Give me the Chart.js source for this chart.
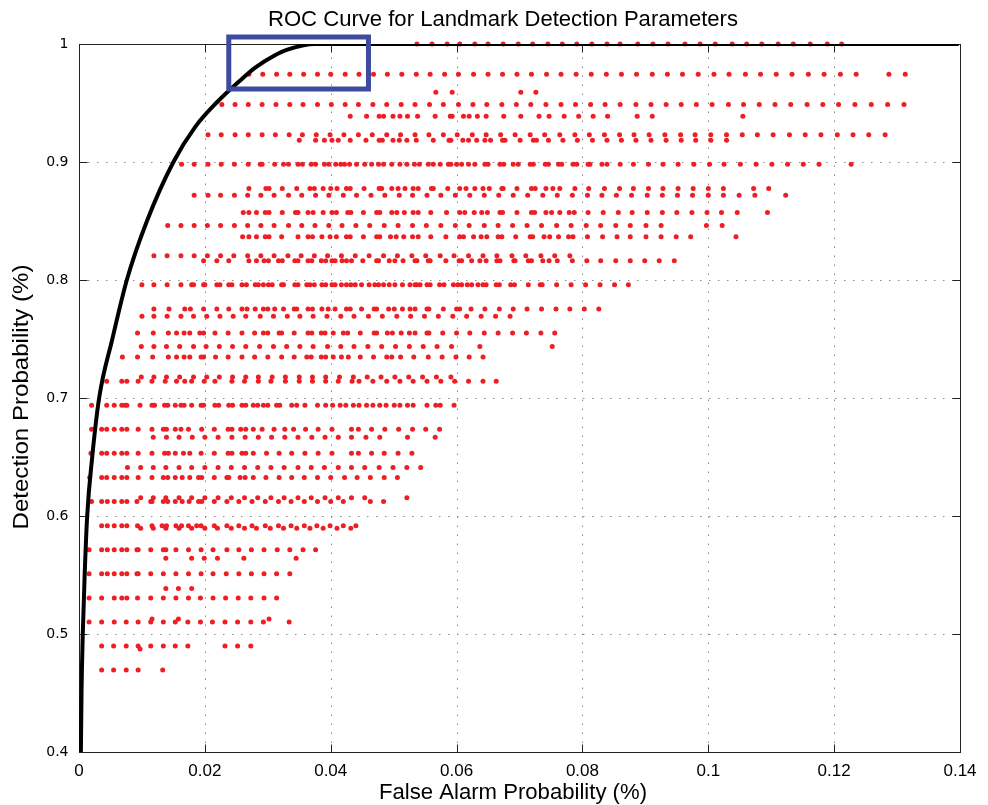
<!DOCTYPE html>
<html><head><meta charset="utf-8">
<script src="https://cdn.jsdelivr.net/npm/chart.js@4.4.1/dist/chart.umd.min.js"></script>
<style>html,body{margin:0;padding:0;background:#fff;}#wrap{width:988px;height:805px;position:relative;}</style>
</head><body><div id="wrap"><canvas id="c" width="988" height="805"></canvas></div>
<script>
const chartTitle = 'ROC Curve for Landmark Detection Parameters';
const xAxisTitle = 'False Alarm Probability (%)';
const yAxisTitle = 'Detection Probability (%)';
const xTicks = [0, 0.02, 0.04, 0.06, 0.08, 0.1, 0.12, 0.14];
const xTickLabels = ['0', '0.02', '0.04', '0.06', '0.08', '0.1', '0.12', '0.14'];
const yTicks = [0.4, 0.5, 0.6, 0.7, 0.8, 0.9, 1];
const yTickLabels = ['0.4', '0.5', '0.6', '0.7', '0.8', '0.9', '1'];

// detection probability of each row of parameter settings
const detectionLevels = [1.0, 0.9744, 0.9592, 0.9487, 0.9388, 0.9231, 0.9184, 0.898, 0.8776, 0.8718, 0.8571, 0.8462, 0.8367, 0.8205, 0.8163, 0.7959, 0.7755, 0.7692, 0.7551, 0.7436, 0.7347, 0.7179, 0.7143, 0.6939, 0.6735, 0.6667, 0.6531, 0.641, 0.6327, 0.6154, 0.6122, 0.5918, 0.5897, 0.5714, 0.5641, 0.551, 0.5385, 0.5306, 0.5128, 0.5102, 0.4898, 0.4872, 0.4694];

// false alarm probabilities of the settings in each row
const falseAlarmRows = [
[0.0537,0.0561,0.0585,0.0605,0.0629,0.0650,0.0674,0.0698,0.0721,0.0745,0.0768,0.0791,0.0815,0.0839,0.0860,0.0888,0.0912,0.0936,0.0963,0.0987,0.1011,0.1038,0.1061,0.1085,0.1111,0.1135,0.1162,0.1189,0.1212],
[0.0270,0.0292,0.0314,0.0335,0.0357,0.0379,0.0400,0.0423,0.0445,0.0468,0.0490,0.0513,0.0536,0.0558,0.0581,0.0603,0.0627,0.0650,0.0673,0.0696,0.0719,0.0743,0.0766,0.0790,0.0814,0.0838,0.0862,0.0886,0.0911,0.0935,0.0959,0.0984,0.1009,0.1033,0.1059,0.1083,0.1108,0.1133,0.1159,0.1184,0.1210,0.1235,0.1287,0.1313],
[0.0567,0.0593,0.0702,0.0726],
[0.0227,0.0248,0.0269,0.0291,0.0313,0.0335,0.0356,0.0379,0.0401,0.0423,0.0444,0.0467,0.0489,0.0512,0.0534,0.0557,0.0579,0.0603,0.0626,0.0648,0.0672,0.0695,0.0718,0.0742,0.0766,0.0789,0.0813,0.0836,0.0860,0.0885,0.0909,0.0933,0.0957,0.0981,0.1006,0.1032,0.1056,0.1081,0.1106,0.1131,0.1157,0.1182,0.1207,0.1233,0.1259,0.1285,0.1311],
[0.0431,0.0457,0.0477,0.0484,0.0499,0.0510,0.0522,0.0538,0.0566,0.0590,0.0593,0.0611,0.0620,0.0633,0.0647,0.0675,0.0702,0.0731,0.0747,0.0771,0.0794,0.0817,0.0840,0.0887,0.0911,0.1055],
[0.0205,0.0226,0.0248,0.0269,0.0291,0.0312,0.0334,0.0355,0.0377,0.0399,0.0421,0.0444,0.0466,0.0489,0.0511,0.0534,0.0556,0.0579,0.0601,0.0625,0.0647,0.0670,0.0693,0.0717,0.0740,0.0764,0.0788,0.0811,0.0835,0.0859,0.0882,0.0906,0.0931,0.0956,0.0979,0.1004,0.1029,0.1054,0.1078,0.1103,0.1129,0.1154,0.1179,0.1205,0.1230,0.1255,0.1281],
[0.0350,0.0376,0.0390,0.0402,0.0412,0.0431,0.0456,0.0477,0.0482,0.0499,0.0509,0.0521,0.0536,0.0563,0.0588,0.0591,0.0610,0.0619,0.0632,0.0645,0.0654,0.0673,0.0677,0.0701,0.0722,0.0727,0.0746,0.0769,0.0792,0.0816,0.0839,0.0862,0.0885,0.0909,0.0933,0.0957,0.0980,0.1004,0.1029],
[0.0163,0.0183,0.0205,0.0226,0.0247,0.0269,0.0288,0.0291,0.0311,0.0325,0.0333,0.0348,0.0355,0.0369,0.0376,0.0390,0.0397,0.0408,0.0416,0.0422,0.0430,0.0441,0.0454,0.0465,0.0476,0.0484,0.0497,0.0510,0.0521,0.0533,0.0541,0.0555,0.0563,0.0574,0.0587,0.0591,0.0600,0.0608,0.0619,0.0629,0.0645,0.0650,0.0669,0.0675,0.0690,0.0698,0.0717,0.0722,0.0741,0.0746,0.0762,0.0767,0.0785,0.0791,0.0809,0.0812,0.0831,0.0839,0.0860,0.0881,0.0905,0.0928,0.0952,0.0977,0.1002,0.1025,0.1051,0.1076,0.1101,0.1126,0.1151,0.1176,0.1227],
[0.0270,0.0297,0.0302,0.0323,0.0346,0.0367,0.0374,0.0388,0.0400,0.0410,0.0425,0.0431,0.0453,0.0477,0.0481,0.0497,0.0507,0.0518,0.0531,0.0539,0.0560,0.0563,0.0586,0.0605,0.0615,0.0629,0.0642,0.0652,0.0672,0.0674,0.0696,0.0719,0.0725,0.0742,0.0753,0.0764,0.0788,0.0810,0.0835,0.0859,0.0881,0.0905,0.0928,0.0952,0.0976,0.1000,0.1024,0.1072,0.1096],
[0.0183,0.0205,0.0225,0.0247,0.0268,0.0289,0.0310,0.0333,0.0354,0.0376,0.0397,0.0420,0.0441,0.0464,0.0486,0.0509,0.0530,0.0553,0.0575,0.0598,0.0621,0.0644,0.0667,0.0690,0.0713,0.0737,0.0760,0.0784,0.0808,0.0831,0.0854,0.0878,0.0903,0.0927,0.0951,0.0975,0.1000,0.1024,0.1049,0.1074,0.1123],
[0.0261,0.0270,0.0282,0.0296,0.0302,0.0323,0.0344,0.0348,0.0364,0.0372,0.0388,0.0402,0.0409,0.0427,0.0432,0.0452,0.0473,0.0478,0.0497,0.0505,0.0517,0.0531,0.0539,0.0559,0.0584,0.0605,0.0613,0.0628,0.0640,0.0649,0.0669,0.0673,0.0696,0.0719,0.0724,0.0742,0.0751,0.0764,0.0779,0.0787,0.0809,0.0833,0.0857,0.0879,0.0903,0.0927,0.0950,0.0974,0.0998,0.1021,0.1046,0.1094],
[0.0141,0.0162,0.0183,0.0204,0.0225,0.0247,0.0268,0.0289,0.0310,0.0333,0.0354,0.0375,0.0397,0.0418,0.0440,0.0462,0.0485,0.0507,0.0530,0.0552,0.0575,0.0598,0.0620,0.0644,0.0666,0.0689,0.0712,0.0735,0.0759,0.0782,0.0806,0.0829,0.0853,0.0876,0.0901,0.0925,0.0997,0.1022],
[0.0260,0.0270,0.0282,0.0296,0.0302,0.0322,0.0348,0.0364,0.0371,0.0386,0.0399,0.0409,0.0425,0.0431,0.0452,0.0473,0.0478,0.0495,0.0504,0.0516,0.0530,0.0539,0.0559,0.0583,0.0605,0.0611,0.0627,0.0639,0.0648,0.0666,0.0672,0.0694,0.0717,0.0721,0.0739,0.0748,0.0762,0.0778,0.0785,0.0808,0.0832,0.0855,0.0876,0.0901,0.0925,0.0949,0.0972,0.1044],
[0.0119,0.0140,0.0162,0.0183,0.0204,0.0225,0.0246,0.0268,0.0289,0.0310,0.0332,0.0353,0.0374,0.0395,0.0417,0.0439,0.0461,0.0484,0.0506,0.0529,0.0551,0.0574,0.0596,0.0619,0.0642,0.0664,0.0688,0.0710,0.0734,0.0756,0.0780],
[0.0198,0.0219,0.0238,0.0270,0.0282,0.0294,0.0301,0.0317,0.0323,0.0343,0.0348,0.0364,0.0370,0.0385,0.0392,0.0402,0.0407,0.0418,0.0425,0.0433,0.0451,0.0473,0.0476,0.0493,0.0502,0.0515,0.0534,0.0537,0.0555,0.0558,0.0583,0.0604,0.0608,0.0624,0.0637,0.0647,0.0664,0.0669,0.0691,0.0693,0.0714,0.0719,0.0737,0.0747,0.0760,0.0784,0.0807,0.0829,0.0853,0.0876,0.0899,0.0922,0.0946],
[0.0100,0.0119,0.0140,0.0162,0.0179,0.0182,0.0198,0.0200,0.0219,0.0224,0.0238,0.0243,0.0259,0.0266,0.0280,0.0285,0.0293,0.0301,0.0307,0.0322,0.0325,0.0343,0.0348,0.0362,0.0367,0.0374,0.0386,0.0392,0.0402,0.0407,0.0417,0.0425,0.0432,0.0439,0.0449,0.0461,0.0470,0.0476,0.0484,0.0493,0.0502,0.0514,0.0526,0.0534,0.0537,0.0542,0.0553,0.0558,0.0573,0.0580,0.0595,0.0602,0.0608,0.0617,0.0624,0.0634,0.0642,0.0647,0.0663,0.0668,0.0686,0.0692,0.0714,0.0733,0.0736,0.0759,0.0782,0.0805,0.0828,0.0851,0.0873],
[0.0119,0.0143,0.0168,0.0177,0.0198,0.0219,0.0238,0.0259,0.0267,0.0280,0.0293,0.0300,0.0311,0.0325,0.0342,0.0346,0.0364,0.0371,0.0386,0.0396,0.0407,0.0425,0.0431,0.0449,0.0469,0.0473,0.0492,0.0501,0.0514,0.0526,0.0534,0.0553,0.0556,0.0579,0.0600,0.0605,0.0623,0.0645,0.0668,0.0690,0.0712,0.0735,0.0758,0.0780,0.0803,0.0826],
[0.0100,0.0119,0.0140,0.0162,0.0182,0.0203,0.0224,0.0245,0.0265,0.0288,0.0309,0.0331,0.0351,0.0372,0.0394,0.0416,0.0437,0.0460,0.0482,0.0505,0.0527,0.0549,0.0571,0.0594,0.0616,0.0639,0.0662,0.0685],
[0.0093,0.0118,0.0142,0.0155,0.0167,0.0176,0.0192,0.0198,0.0216,0.0237,0.0259,0.0279,0.0293,0.0300,0.0318,0.0322,0.0342,0.0364,0.0370,0.0385,0.0391,0.0404,0.0420,0.0427,0.0447,0.0469,0.0473,0.0490,0.0498,0.0512,0.0525,0.0534,0.0553,0.0556,0.0578,0.0600,0.0621,0.0644,0.0666,0.0689,0.0711,0.0734,0.0756],
[0.0099,0.0119,0.0139,0.0160,0.0182,0.0202,0.0223,0.0244,0.0265,0.0287,0.0309,0.0330,0.0351,0.0372,0.0395,0.0416,0.0437,0.0459,0.0481,0.0503,0.0525,0.0547,0.0569,0.0592,0.0637,0.0752],
[0.0069,0.0093,0.0117,0.0142,0.0155,0.0167,0.0176,0.0194,0.0198,0.0217,0.0237,0.0259,0.0279,0.0300,0.0322,0.0342,0.0362,0.0369,0.0385,0.0392,0.0404,0.0417,0.0428,0.0447,0.0468,0.0489,0.0497,0.0511,0.0532,0.0555,0.0577,0.0599,0.0620,0.0642],
[0.0099,0.0119,0.0139,0.0160,0.0182,0.0203,0.0223,0.0244,0.0265,0.0285,0.0307,0.0328,0.0350,0.0371,0.0392,0.0414,0.0436,0.0458,0.0480,0.0502,0.0524,0.0546,0.0568,0.0591],
[0.0044,0.0068,0.0076,0.0094,0.0116,0.0137,0.0155,0.0168,0.0179,0.0199,0.0216,0.0243,0.0263,0.0285,0.0305,0.0328,0.0350,0.0371,0.0392,0.0412,0.0434,0.0445,0.0467,0.0489,0.0510,0.0531,0.0553,0.0575,0.0597,0.0619,0.0642,0.0663],
[0.0020,0.0044,0.0056,0.0068,0.0073,0.0076,0.0097,0.0116,0.0120,0.0136,0.0141,0.0153,0.0162,0.0167,0.0179,0.0194,0.0198,0.0216,0.0222,0.0238,0.0244,0.0259,0.0265,0.0277,0.0284,0.0293,0.0300,0.0314,0.0319,0.0338,0.0346,0.0359,0.0379,0.0392,0.0403,0.0415,0.0424,0.0436,0.0445,0.0457,0.0467,0.0478,0.0488,0.0501,0.0510,0.0522,0.0531,0.0553,0.0567,0.0574,0.0596],
[0.0020,0.0036,0.0044,0.0056,0.0068,0.0076,0.0094,0.0116,0.0134,0.0139,0.0153,0.0162,0.0174,0.0195,0.0215,0.0237,0.0243,0.0257,0.0265,0.0277,0.0291,0.0310,0.0327,0.0341,0.0360,0.0380,0.0402,0.0433,0.0444,0.0465,0.0486,0.0508,0.0530,0.0551,0.0573],
[0.0118,0.0139,0.0159,0.0180,0.0200,0.0221,0.0243,0.0264,0.0285,0.0306,0.0327,0.0348,0.0370,0.0391,0.0412,0.0433,0.0456,0.0478,0.0522,0.0566],
[0.0019,0.0036,0.0044,0.0056,0.0068,0.0076,0.0094,0.0116,0.0136,0.0142,0.0153,0.0166,0.0176,0.0194,0.0215,0.0237,0.0243,0.0259,0.0265,0.0277,0.0298,0.0318,0.0338,0.0359,0.0380,0.0402,0.0433,0.0444,0.0465,0.0485,0.0507,0.0529],
[0.0077,0.0098,0.0118,0.0138,0.0159,0.0179,0.0200,0.0221,0.0242,0.0263,0.0284,0.0305,0.0326,0.0348,0.0369,0.0390,0.0412,0.0433,0.0454,0.0477,0.0499,0.0521,0.0543],
[0.0017,0.0036,0.0044,0.0056,0.0068,0.0076,0.0094,0.0116,0.0134,0.0141,0.0153,0.0164,0.0176,0.0190,0.0195,0.0215,0.0235,0.0238,0.0256,0.0264,0.0277,0.0297,0.0318,0.0338,0.0358,0.0379,0.0400,0.0422,0.0442,0.0463,0.0485,0.0506],
[0.0098,0.0118,0.0138,0.0159,0.0179,0.0200,0.0221,0.0242,0.0263,0.0284,0.0305,0.0326,0.0348,0.0369,0.0391,0.0412,0.0433,0.0454,0.0521],
[0.0020,0.0036,0.0045,0.0056,0.0068,0.0076,0.0092,0.0114,0.0116,0.0134,0.0141,0.0153,0.0164,0.0175,0.0190,0.0195,0.0215,0.0235,0.0254,0.0275,0.0296,0.0317,0.0337,0.0358,0.0379,0.0400,0.0420,0.0463,0.0484],
[0.0036,0.0045,0.0056,0.0068,0.0076,0.0093,0.0116,0.0132,0.0139,0.0154,0.0163,0.0174,0.0187,0.0194,0.0215,0.0235,0.0254,0.0275,0.0296,0.0317,0.0337,0.0358,0.0378,0.0399,0.0420,0.0440],
[0.0098,0.0118,0.0138,0.0159,0.0179,0.0200,0.0220,0.0242,0.0263,0.0282,0.0304,0.0325,0.0346,0.0367,0.0388,0.0410,0.0432],
[0.0016,0.0036,0.0045,0.0056,0.0068,0.0076,0.0092,0.0094,0.0114,0.0134,0.0138,0.0154,0.0174,0.0194,0.0213,0.0235,0.0254,0.0274,0.0294,0.0315,0.0335,0.0356,0.0376],
[0.0138,0.0179,0.0199,0.0220,0.0262,0.0345],
[0.0016,0.0036,0.0045,0.0056,0.0068,0.0076,0.0092,0.0094,0.0114,0.0134,0.0154,0.0174,0.0194,0.0213,0.0234,0.0254,0.0274,0.0294,0.0314,0.0335],
[0.0138,0.0158,0.0179],
[0.0016,0.0036,0.0056,0.0068,0.0076,0.0093,0.0114,0.0134,0.0154,0.0174,0.0193,0.0213,0.0233,0.0253,0.0273,0.0294,0.0314],
[0.0116,0.0158,0.0302],
[0.0016,0.0036,0.0056,0.0075,0.0094,0.0114,0.0134,0.0153,0.0173,0.0193,0.0212,0.0232,0.0252,0.0273,0.0293,0.0334],
[0.0036,0.0055,0.0075,0.0094,0.0114,0.0134,0.0153,0.0173,0.0232,0.0252,0.0273],
[0.0097],
[0.0036,0.0055,0.0075,0.0094,0.0133]
];

// ROC curve
const rocFalseAlarm = [0.0003, 0.0004, 0.0006, 0.0009, 0.0013, 0.0021, 0.0032, 0.0053, 0.0076, 0.0108, 0.0150, 0.0185, 0.0218, 0.0258, 0.0280, 0.0310, 0.0330, 0.0375, 0.1398];
const rocDetection = [0.40, 0.45, 0.50, 0.55, 0.60, 0.65, 0.70, 0.75, 0.80, 0.85, 0.90, 0.93, 0.95, 0.97, 0.98, 0.99, 0.995, 1.0, 1.0];

// highlighted region
const boxFalseAlarm = [0.0238, 0.0460, 0.0460, 0.0238, 0.0238];
const boxDetection = [1.0059, 1.0059, 0.9619, 0.9619, 1.0059];

const dotPoints = [];
detectionLevels.forEach((d, i) => falseAlarmRows[i].forEach(f => dotPoints.push({x: f, y: d})));
const rocPoints = rocFalseAlarm.map((f, i) => ({x: f, y: rocDetection[i]}));
const boxPoints = boxFalseAlarm.map((f, i) => ({x: f, y: boxDetection[i]}));

function fitText(ctx, text, cx, cy, targetW, font, rotate) {
  ctx.save();
  ctx.font = font;
  const w = ctx.measureText(text).width;
  ctx.translate(cx, cy);
  if (rotate) ctx.rotate(-Math.PI / 2);
  ctx.scale(targetW / w, 1);
  ctx.textAlign = 'center';
  ctx.textBaseline = 'middle';
  ctx.fillStyle = '#000';
  ctx.fillText(text, 0, 0);
  ctx.restore();
}

const matlabAxes = {
  id: 'matlabAxes',
  beforeDatasetsDraw(chart) {
    const {ctx, chartArea: a, scales: {x, y}} = chart;
    ctx.save();
    ctx.strokeStyle = '#8a8a8a';
    ctx.lineWidth = 1;
    ctx.setLineDash([1.5, 7.5]);
    xTicks.slice(1, -1).forEach(v => {
      const px = Math.round(x.getPixelForValue(v)) + 0.5;
      ctx.beginPath(); ctx.moveTo(px, a.bottom); ctx.lineTo(px, a.top); ctx.stroke();
    });
    yTicks.slice(1, -1).forEach(v => {
      const py = Math.round(y.getPixelForValue(v)) + 0.5;
      ctx.beginPath(); ctx.moveTo(a.left, py); ctx.lineTo(a.right, py); ctx.stroke();
    });
    ctx.setLineDash([]);
    ctx.strokeStyle = '#222';
    ctx.lineWidth = 1;
    const L = Math.round(a.left) + 0.5, R = Math.round(a.right) + 0.5, T = Math.round(a.top) + 0.5, B = Math.round(a.bottom) + 0.5;
    ctx.strokeRect(L, T, R - L, B - T);
    const tl = 8;
    ctx.beginPath();
    xTicks.forEach(v => {
      const px = Math.round(x.getPixelForValue(v)) + 0.5;
      ctx.moveTo(px, B); ctx.lineTo(px, B - tl);
      ctx.moveTo(px, T); ctx.lineTo(px, T + tl);
    });
    yTicks.forEach(v => {
      const py = Math.round(y.getPixelForValue(v)) + 0.5;
      ctx.moveTo(L, py); ctx.lineTo(L + tl, py);
      ctx.moveTo(R, py); ctx.lineTo(R - tl, py);
    });
    ctx.stroke();
    ctx.restore();
  },
  afterDraw(chart) {
    const {ctx, scales: {x, y}} = chart;
    ctx.save();
    ctx.fillStyle = '#000';
    ctx.font = '17px "Liberation Sans", Arial, sans-serif';
    ctx.textAlign = 'center';
    ctx.textBaseline = 'middle';
    xTicks.forEach((v, i) => ctx.fillText(xTickLabels[i], x.getPixelForValue(v), 771));
    ctx.font = '14px "DejaVu Sans", sans-serif';
    ctx.textAlign = 'right';
    yTicks.forEach((v, i) => ctx.fillText(yTickLabels[i], 68.5, y.getPixelForValue(v)));
    ctx.restore();
    fitText(ctx, chartTitle, 503, 20, 470, '22px "Liberation Sans", Arial, sans-serif', false);
    fitText(ctx, xAxisTitle, 513, 793, 268, '22px "Liberation Sans", Arial, sans-serif', false);
    fitText(ctx, yAxisTitle, 22, 397, 265, '22px "Liberation Sans", Arial, sans-serif', true);
  }
};

new Chart(document.getElementById('c'), {
  type: 'scatter',
  data: {
    datasets: [
      {label: 'Highlighted region', data: boxPoints, showLine: true, borderColor: '#3d4a9f', borderWidth: 5,
        pointRadius: 0, tension: 0, fill: false, clip: false, borderCapStyle: 'square', borderJoinStyle: 'miter', order: 0},
      {label: 'ROC curve', data: rocPoints, showLine: true, borderColor: '#000', borderWidth: 4,
        pointRadius: 0, cubicInterpolationMode: 'monotone', fill: false, clip: 0, order: 1},
      {label: 'Parameter settings', data: dotPoints, backgroundColor: 'rgb(237,30,36)', borderWidth: 0,
        pointRadius: 2.5, pointHoverRadius: 2.5, clip: false, order: 2}
    ]
  },
  options: {
    responsive: false,
    animation: false,
    devicePixelRatio: 1,
    events: [],
    layout: {padding: {top: 44, right: 28, left: 0, bottom: 0}},
    plugins: {legend: {display: false}, tooltip: {enabled: false}, title: {display: false}},
    scales: {
      x: {type: 'linear', min: 0, max: 0.14, ticks: {display: false, stepSize: 0.02}, grid: {display: false}, border: {display: false},
        afterFit(s) { s.height = 53; }},
      y: {type: 'linear', min: 0.4, max: 1, ticks: {display: false, stepSize: 0.1}, grid: {display: false}, border: {display: false},
        afterFit(s) { s.width = 79; }}
    }
  },
  plugins: [matlabAxes]
});
</script>
</body></html>
